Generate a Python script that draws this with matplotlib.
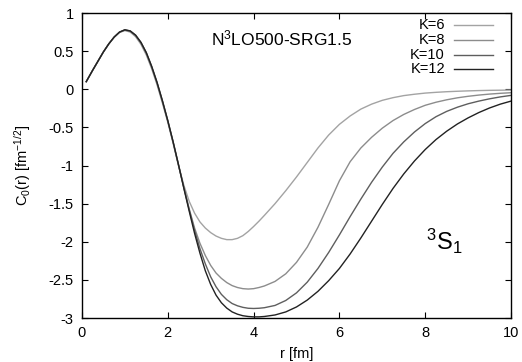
import matplotlib
matplotlib.use("Agg")
import matplotlib.pyplot as plt
from matplotlib.ticker import FormatStrFormatter

plt.rcParams['font.family'] = ['Liberation Sans', 'DejaVu Sans']
plt.rcParams['mathtext.fontset'] = 'custom'
plt.rcParams['mathtext.rm'] = 'Liberation Sans'
plt.rcParams['mathtext.it'] = 'Liberation Sans:italic'
plt.rcParams['axes.unicode_minus'] = False

# r grid [fm]: fine steps up to 4.25, then 0.25
r = [0.1, 0.25, 0.375, 0.5, 0.625, 0.75, 0.875, 1.0, 1.125, 1.25, 1.375, 1.5,
     1.625, 1.75, 1.875, 2.0, 2.125, 2.25, 2.375, 2.5, 2.625, 2.75, 2.875, 3.0,
     3.125, 3.25, 3.375, 3.5, 3.625, 3.75, 3.875, 4.0, 4.125, 4.25,
     4.5, 4.75, 5.0, 5.25, 5.5, 5.75, 6.0, 6.25, 6.5, 6.75, 7.0, 7.25, 7.5,
     7.75, 8.0, 8.25, 8.5, 8.75, 9.0, 9.25, 9.5, 9.75, 10.0]

k6 = [0.10, 0.25, 0.37, 0.49, 0.595, 0.68, 0.745, 0.77, 0.75, 0.69, 0.59, 0.45,
      0.27, 0.06, -0.18, -0.43, -0.71, -1.00, -1.26, -1.47, -1.625, -1.74, -1.82,
      -1.88, -1.925, -1.955, -1.972, -1.972, -1.955, -1.92, -1.865, -1.80, -1.73,
      -1.655,
      -1.50, -1.33, -1.15, -0.96, -0.77, -0.60, -0.46, -0.35, -0.26, -0.195,
      -0.145, -0.11, -0.083, -0.065, -0.05, -0.04, -0.032, -0.026, -0.021,
      -0.017, -0.014, -0.012, -0.01]

k8 = [0.10, 0.25, 0.37, 0.49, 0.595, 0.683, 0.748, 0.775, 0.758, 0.70, 0.603,
      0.465, 0.285, 0.075, -0.165, -0.42, -0.70, -0.995, -1.29, -1.57, -1.82,
      -2.02, -2.18, -2.31, -2.41, -2.48, -2.535, -2.575, -2.60, -2.615, -2.62,
      -2.615, -2.60, -2.58,
      -2.52, -2.42, -2.27, -2.07, -1.81, -1.51, -1.20, -0.95, -0.77, -0.63,
      -0.51, -0.41, -0.33, -0.265, -0.21, -0.17, -0.138, -0.112, -0.092,
      -0.076, -0.063, -0.053, -0.045]

k10 = [0.10, 0.25, 0.37, 0.49, 0.595, 0.685, 0.75, 0.78, 0.765, 0.71, 0.615,
       0.48, 0.30, 0.09, -0.15, -0.41, -0.69, -0.99, -1.29, -1.58, -1.85, -2.09,
       -2.29, -2.46, -2.59, -2.69, -2.76, -2.81, -2.84, -2.86, -2.872, -2.875,
       -2.872, -2.865,
       -2.835, -2.77, -2.67, -2.53, -2.35, -2.14, -1.91, -1.67, -1.44, -1.22,
       -1.02, -0.84, -0.69, -0.56, -0.45, -0.36, -0.29, -0.235, -0.19, -0.155,
       -0.125, -0.10, -0.08]

k12 = [0.10, 0.25, 0.37, 0.49, 0.595, 0.685, 0.75, 0.78, 0.765, 0.71, 0.615,
       0.48, 0.30, 0.09, -0.15, -0.41, -0.69, -0.99, -1.30, -1.60, -1.89, -2.15,
       -2.38, -2.56, -2.70, -2.80, -2.87, -2.92, -2.95, -2.97, -2.98, -2.985,
       -2.985, -2.98,
       -2.96, -2.92, -2.855, -2.765, -2.65, -2.51, -2.35, -2.16, -1.95, -1.73,
       -1.51, -1.30, -1.11, -0.94, -0.79, -0.66, -0.55, -0.455, -0.375, -0.305,
       -0.245, -0.195, -0.155]

labels = ['K=6', 'K=8', 'K=10', 'K=12']
colors = ['#a3a3a3', '#8c8c8c', '#5e5e5e', '#222222']
series = [k6, k8, k10, k12]

fig = plt.figure(figsize=(5.22, 3.62), dpi=100)
ax = fig.add_axes([0.157, 0.1215, 0.822, 0.8425])

for vals, c in zip(series, colors):
    ax.plot(r, vals, color=c, lw=1.0)

ax.set_xlim(0, 10)
ax.set_ylim(-3, 1)
ax.set_xticks([0, 2, 4, 6, 8, 10])
ax.set_yticks([-3, -2.5, -2, -1.5, -1, -0.5, 0, 0.5, 1])
ax.yaxis.set_major_formatter(FormatStrFormatter('%g'))
ax.tick_params(direction='in', top=True, right=True, length=4, width=0.8,
               labelsize=10.5, pad=6)
for s in ax.spines.values():
    s.set_linewidth(1.0)

ax.set_xlabel('r [fm]', fontsize=10.5, labelpad=5)
ax.set_ylabel(r'C$_0$(r) [fm$^{-1/2}$]', fontsize=10.5, labelpad=11)

ax.text(0.466, 0.918, r'N$^3$LO500-SRG1.5', transform=ax.transAxes,
        fontsize=12.5, ha='center', va='center')
ax.text(0.844, 0.25, r'$^3$S$_1$', transform=ax.transAxes,
        fontsize=17, ha='center', va='center')

# gnuplot-style key: label right-aligned, sample line to the right
key_y = [0.961, 0.911, 0.864, 0.816]
for lab, c, yk in zip(labels, colors, key_y):
    ax.text(0.846, yk, lab, transform=ax.transAxes, fontsize=10.5,
            ha='right', va='center')
    ax.plot([0.867, 0.958], [yk, yk], color=c, lw=1.0, transform=ax.transAxes)

fig.savefig('out.png', dpi=100)
